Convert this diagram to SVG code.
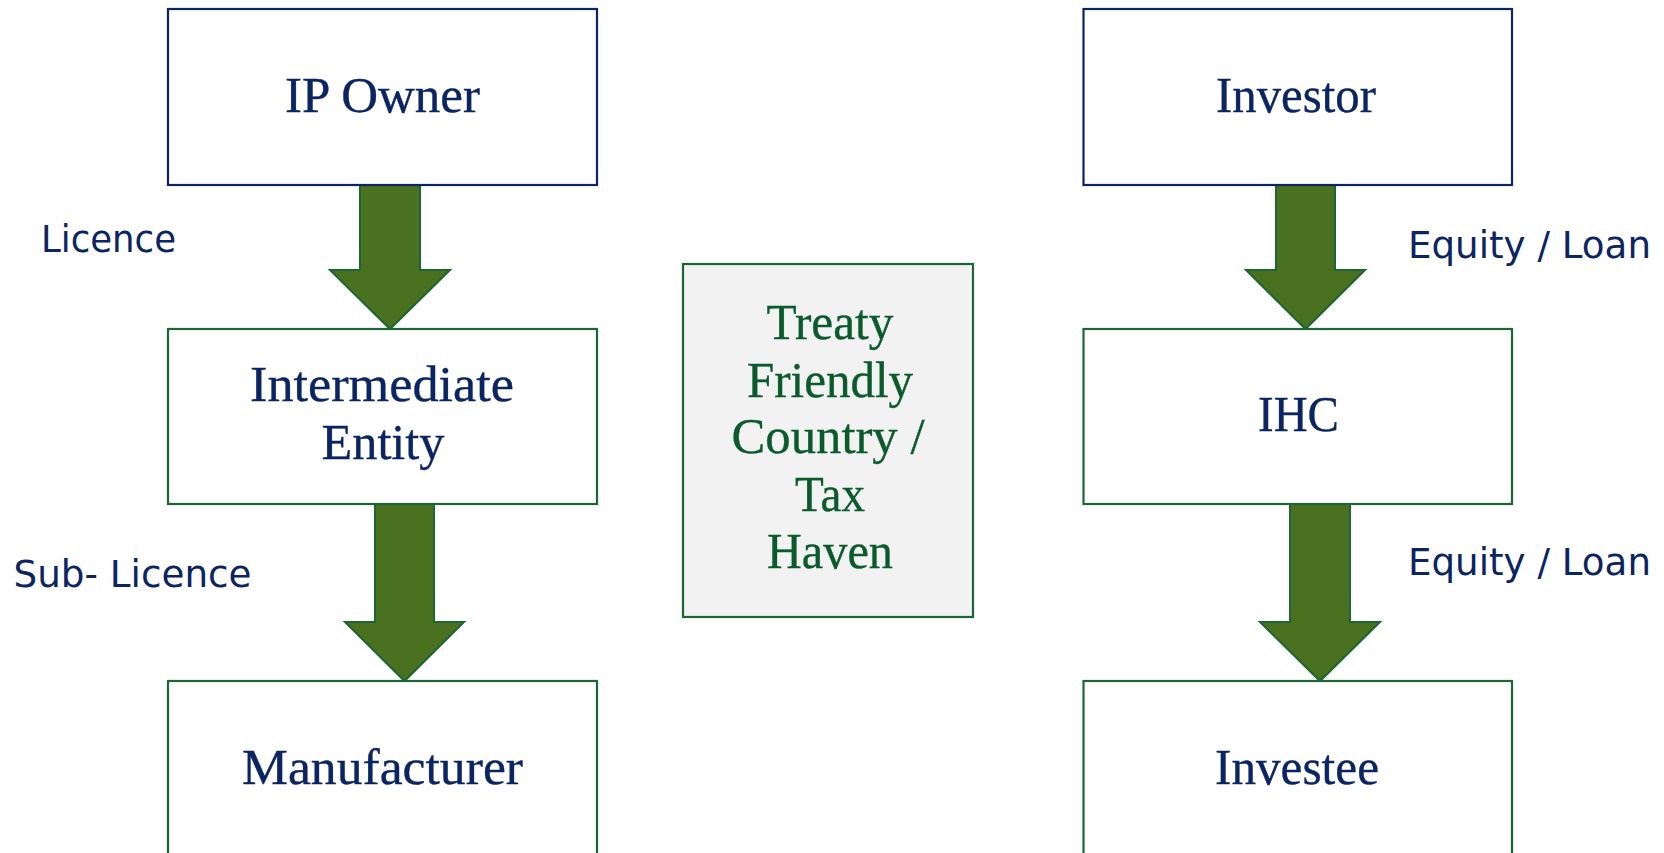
<svg xmlns="http://www.w3.org/2000/svg" width="1664" height="853" viewBox="0 0 1664 853">
<style>
.box{fill:#ffffff;stroke-width:2.2}
.navy{stroke:#0b2462}
.grn{stroke:#1b6632}
.center{fill:#f2f2f2;stroke:#1b6632;stroke-width:2.2}
.arrow{fill:#4a7120;stroke:#1b6632;stroke-width:2;stroke-linejoin:miter}
.ser{font-family:"Liberation Serif","Times New Roman",serif;font-size:51px;fill:#0b2462;text-anchor:middle;stroke:#0b2462;stroke-width:0.35}
.serg{font-family:"Liberation Serif","Times New Roman",serif;font-size:51px;fill:#0b5a2c;text-anchor:middle;stroke:#0b5a2c;stroke-width:0.35}
.lbl{font-family:"DejaVu Sans",Verdana,sans-serif;font-size:37px;fill:#0b2462}
</style>
<rect width="1664" height="853" fill="#ffffff"/>
<g id="connectors">
<polygon class="arrow" points="360,185 420,185 420,270 450,270 390,329 330,270 360,270"/>
<polygon class="arrow" points="375,504 434,504 434,622 464,622 404.5,681 345,622 375,622"/>
<polygon class="arrow" points="1276,185 1335,185 1335,270 1365,270 1305.5,329 1246,270 1276,270"/>
<polygon class="arrow" points="1290,504 1350,504 1350,622 1380,622 1320,681 1260,622 1290,622"/>
<text class="lbl" x="41" y="252" textLength="135" lengthAdjust="spacingAndGlyphs">Licence</text>
<text class="lbl" x="13.5" y="587" textLength="238" lengthAdjust="spacingAndGlyphs">Sub- Licence</text>
<text class="lbl" x="1408" y="258" textLength="243" lengthAdjust="spacingAndGlyphs">Equity / Loan</text>
<text class="lbl" x="1408" y="575" textLength="243" lengthAdjust="spacingAndGlyphs">Equity / Loan</text>
</g>
<g id="ip-owner">
<rect class="box navy" x="168" y="9" width="429" height="176"/>
<text class="ser" x="382.5" y="112" textLength="195" lengthAdjust="spacingAndGlyphs">IP Owner</text>
</g>
<g id="intermediate-entity">
<rect class="box grn" x="168" y="329" width="429" height="175"/>
<text class="ser" x="382" y="401" textLength="264" lengthAdjust="spacingAndGlyphs">Intermediate</text>
<text class="ser" x="383" y="459" textLength="123" lengthAdjust="spacingAndGlyphs">Entity</text>
</g>
<g id="manufacturer">
<rect class="box grn" x="168" y="681" width="429" height="200"/>
<text class="ser" x="382.5" y="784" textLength="281" lengthAdjust="spacingAndGlyphs">Manufacturer</text>
</g>
<g id="treaty-country">
<rect class="center" x="683" y="264" width="290" height="353"/>
<text class="serg" x="830" y="339" textLength="127" lengthAdjust="spacingAndGlyphs">Treaty</text>
<text class="serg" x="830" y="397" textLength="166" lengthAdjust="spacingAndGlyphs">Friendly</text>
<text class="serg" x="828" y="453" textLength="193" lengthAdjust="spacingAndGlyphs">Country /</text>
<text class="serg" x="830" y="511" textLength="70" lengthAdjust="spacingAndGlyphs">Tax</text>
<text class="serg" x="830" y="568" textLength="126" lengthAdjust="spacingAndGlyphs">Haven</text>
</g>
<g id="investor">
<rect class="box navy" x="1083.5" y="9" width="428.5" height="176"/>
<text class="ser" x="1296" y="112" textLength="160" lengthAdjust="spacingAndGlyphs">Investor</text>
</g>
<g id="ihc">
<rect class="box grn" x="1083.5" y="329" width="428.5" height="175"/>
<text class="ser" x="1298.5" y="431" textLength="81" lengthAdjust="spacingAndGlyphs">IHC</text>
</g>
<g id="investee">
<rect class="box grn" x="1083.5" y="681" width="428.5" height="200"/>
<text class="ser" x="1297" y="784" textLength="164" lengthAdjust="spacingAndGlyphs">Investee</text>
</g>
</svg>
